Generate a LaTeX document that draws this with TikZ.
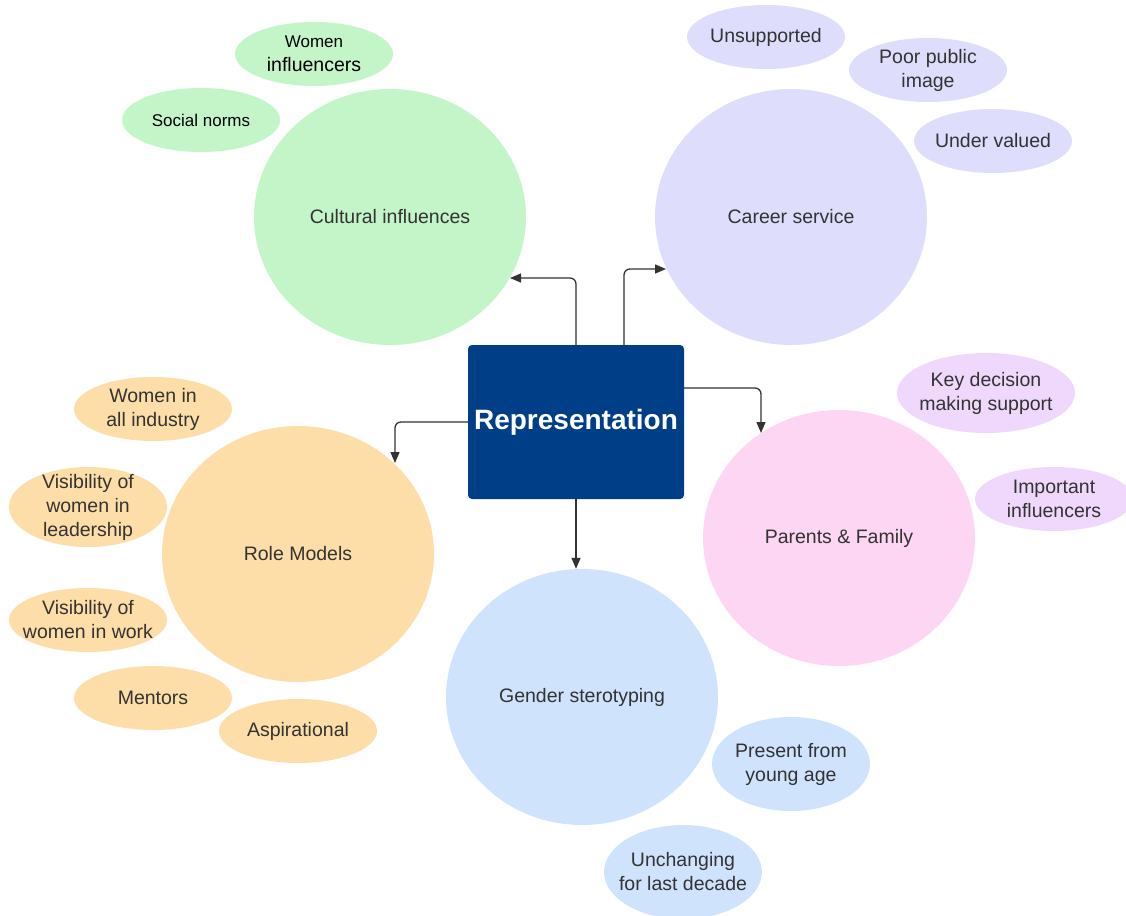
\documentclass[tikz,border=0pt]{standalone}
\usepackage{fontspec}
\setmainfont{Liberation Sans}
\usetikzlibrary{shapes.geometric,arrows.meta}
\definecolor{cgreen}{HTML}{C3F5C8}
\definecolor{clav}{HTML}{DEDEFC}
\definecolor{corange}{HTML}{FDDDA8}
\definecolor{cpink}{HTML}{FDD6F4}
\definecolor{clilac}{HTML}{EFD8FC}
\definecolor{cblue}{HTML}{CFE3FD}
\definecolor{ctxt}{HTML}{333333}
\definecolor{crep}{HTML}{003E87}
\tikzset{
  big/.style={ellipse, minimum width=272pt, minimum height=256pt, inner sep=0pt, draw=none, text=ctxt, font=\fontsize{19.5pt}{24pt}\selectfont},
  small/.style={ellipse, minimum width=158pt, minimum height=64pt, inner sep=-30pt, draw=none, text=ctxt, align=center, font=\fontsize{19.5pt}{24pt}\selectfont},
  arr/.style={draw=ctxt, line width=1.3pt, rounded corners=6pt, -{Triangle[length=11pt,width=9pt]}},
}
\begin{document}
\begin{tikzpicture}[x=1pt,y=-1pt]
\useasboundingbox (0,0) rectangle (1126,915);
% big circles
\node[big, fill=cgreen] (cult) at (390,217) {Cultural influences};
\node[big, fill=clav] (career) at (791,217) {Career service};
\node[big, fill=corange] (role) at (298,554) {Role Models};
\node[big, fill=cpink] (parents) at (839,538) {Parents \& Family};
\node[big, fill=cblue] (gender) at (582,697) {Gender sterotyping};
% small ellipses
\node[small, fill=cgreen, text=black] (wi) at (314,54) {{\fontsize{17pt}{22pt}\selectfont Women}\\influencers};
\node[small, fill=cgreen, text=black, font=\fontsize{17pt}{22pt}\selectfont] (sn) at (201,120) {Social norms};
\node[small, fill=clav] (uns) at (766,37) {Unsupported};
\node[small, fill=clav] (ppi) at (928,70) {Poor public\\image};
\node[small, fill=clav] (uv) at (993,141) {Under valued};
\node[small, fill=clilac, minimum width=178pt, minimum height=80pt] (kd) at (986,393) {Key decision\\making support};
\node[small, fill=clilac] (ii) at (1054,499) {Important\\influencers};
\node[small, fill=corange] (wai) at (153,409) {Women in\\all industry};
\node[small, fill=corange, minimum height=80pt] (vwl) at (88,507) {Visibility of\\women in\\leadership};
\node[small, fill=corange] (vww) at (88,620) {Visibility of\\women in work};
\node[small, fill=corange] (men) at (153,698) {Mentors};
\node[small, fill=corange] (asp) at (298,731) {Aspirational};
\node[small, fill=cblue, minimum height=94pt] (pya) at (791,764) {Present from\\young age};
\node[small, fill=cblue, minimum height=94pt] (unc) at (683,872) {Unchanging\\for last decade};
% central box
\node[rectangle, rounded corners=4pt, fill=crep, minimum width=216pt, minimum height=154pt, inner sep=0pt, text=white, font=\bfseries\fontsize{28pt}{32pt}\selectfont] (rep) at (576,422) {Representation};
% connectors
\coordinate (a1) at (510,278);
\coordinate (a2) at (666,269);
\coordinate (a3) at (761,433);
\coordinate (a4) at (395,463);
\draw[arr] (rep.north) |- (a1);
\draw[arr] ([xshift=48pt]rep.north) |- (a2);
\draw[arr] ([yshift=34pt]rep.east) -| (a3);
\draw[arr] (rep.west) -| (a4);
\draw[arr] (rep.south) -- (rep.south |- gender.north);
\end{tikzpicture}
\end{document}
